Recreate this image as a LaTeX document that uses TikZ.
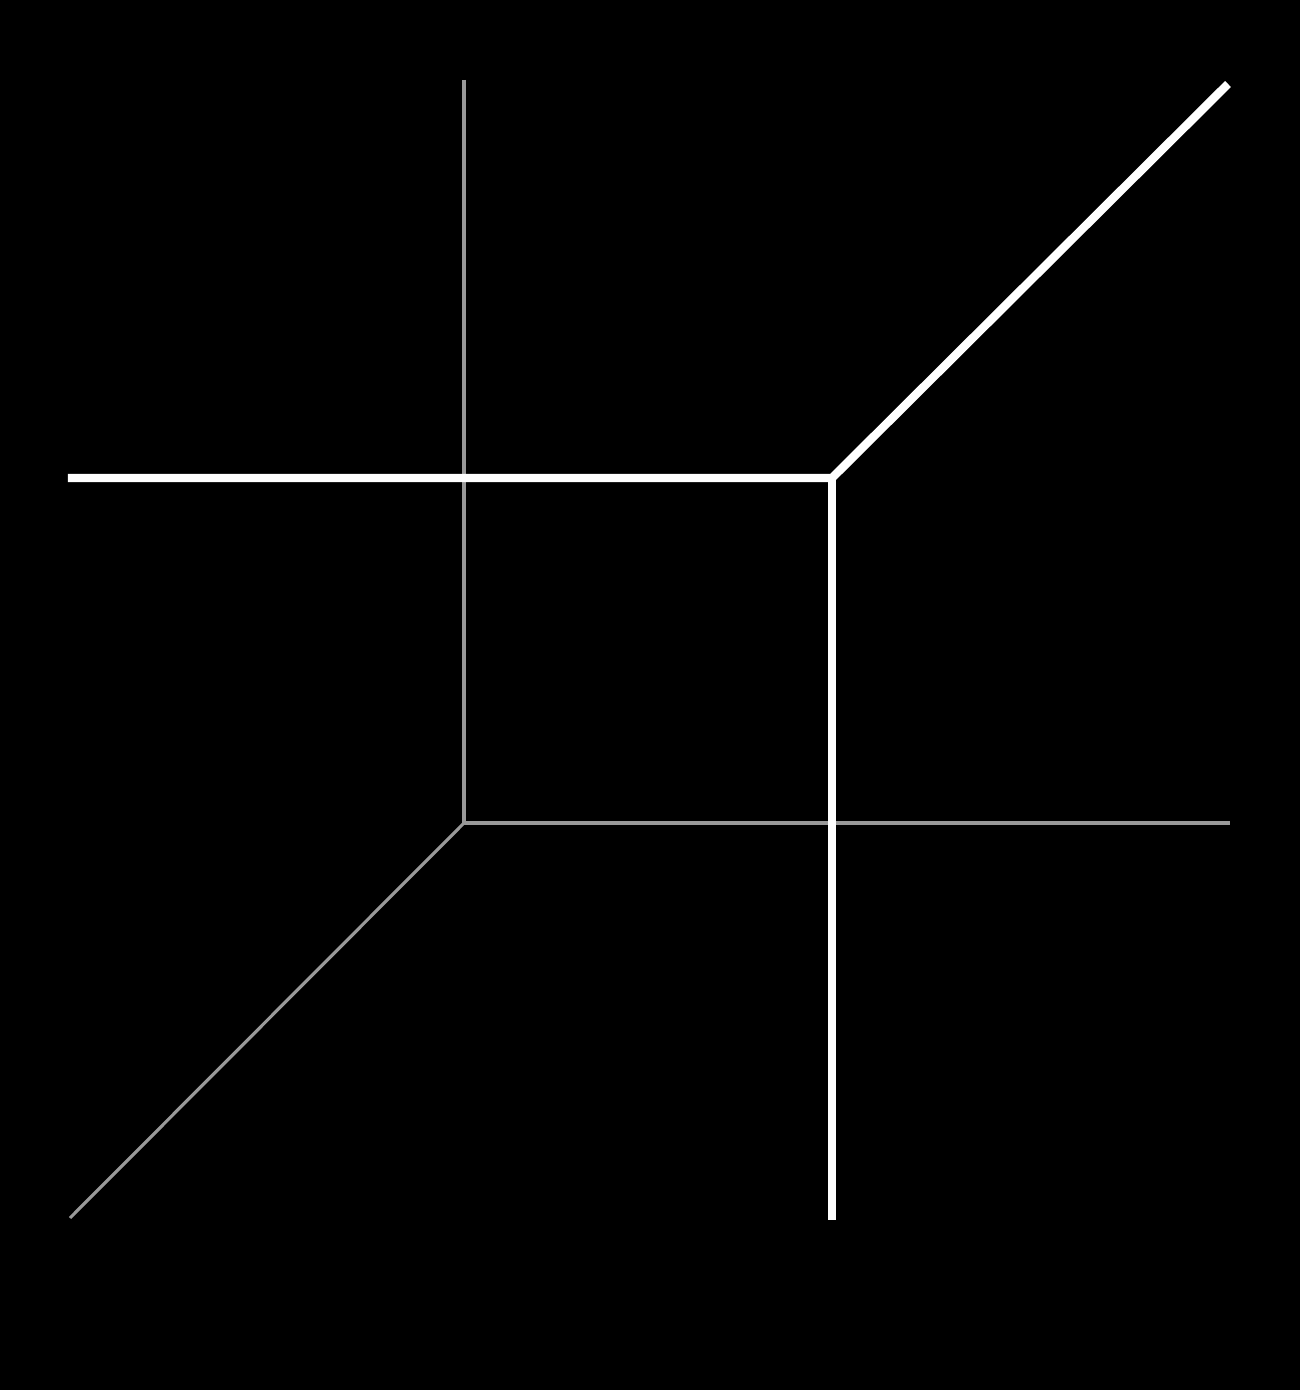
\documentclass[tikz,border=0pt]{standalone}
\usetikzlibrary{positioning}

\begin{document}
\begin{tikzpicture}[axis/.style={draw=black!40, line width=0.9pt},
                    cut/.style={draw=white, line width=2.4pt, line join=miter}]
	%% background
	\fill[black] (0,0) rectangle (13,13.9);
	\useasboundingbox (0,0) rectangle (13,13.9);

	% points of the frame
	\coordinate (origin) at (4.64,5.67);
	\coordinate (ytop) at (4.64,13.10);
	\coordinate (xend) at (12.30,5.67);
	\coordinate (zend) at (0.70,1.72);

	% points of the white cut
	\coordinate (corner) at (8.32,9.12);
	\coordinate (leftend) at (0.68,9.12);
	\coordinate (downend) at (8.32,1.70);
	\coordinate (diagend) at (12.28,13.06);

	% gray axes
	\draw[axis] (ytop) -- (origin) -- (xend);
	\draw[axis] (origin) -- (zend);

	% white lines
	\draw[cut] (leftend) -- (corner) -- (diagend);
	\draw[cut] (corner) -- (downend);
\end{tikzpicture}
\end{document}
